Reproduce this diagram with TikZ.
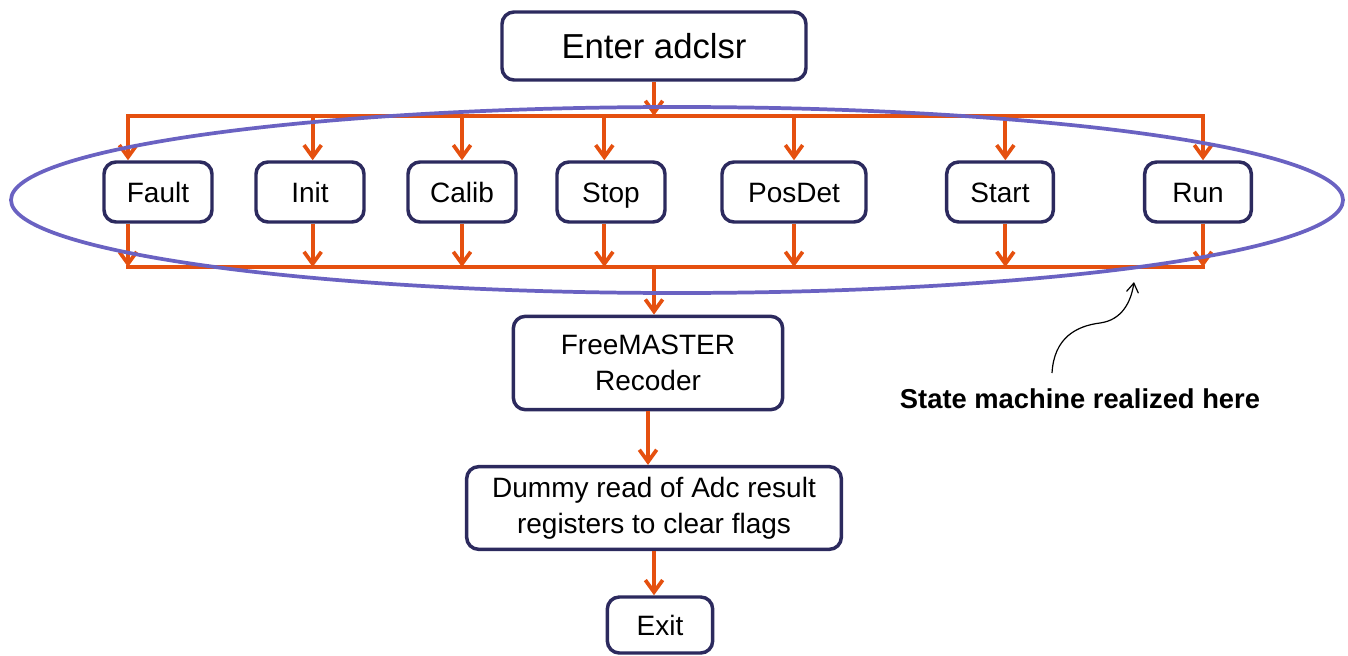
\documentclass[tikz,border=0pt]{standalone}
\usepackage{fontspec}
\setmainfont{Liberation Sans}
\usetikzlibrary{arrows.meta}

\definecolor{flowOrange}{HTML}{E5500F}
\definecolor{boxNavy}{HTML}{2C2A5E}
\definecolor{ringBlue}{HTML}{6A62C2}

\tikzset{every picture/.style={line width=0.75pt}}
\tikzset{
  stepbox/.style={draw=boxNavy, line width=2.6pt, rounded corners=9pt, fill=white,
    align=center, inner sep=2pt, font=\fontsize{21}{27}\selectfont},
  statebox/.style={stepbox, minimum width=81pt, minimum height=45pt, text height=16pt, text depth=1pt},
  flow/.style={draw=flowOrange, line width=2.8pt, -{Straight Barb[length=9pt,width=13pt]}},
  bus/.style={draw=flowOrange, line width=2.8pt, line cap=rect},
}

\begin{document}
\begin{tikzpicture}[x=0.75pt,y=0.75pt,yscale=-1,xscale=1]
\useasboundingbox (0,0) rectangle (1348,656);

% Text Node
\draw (654,46) node [stepbox, minimum width=228pt, minimum height=51pt, font=\fontsize{26}{30}\selectfont] (enter) {Enter adclsr};
% Text Node
\draw (158,192) node [statebox] (fault) {Fault};
% Text Node
\draw (310,192) node [statebox] (init) {Init};
% Text Node
\draw (462,192) node [statebox] (calib) {Calib};
% Text Node
\draw (611,192) node [statebox] (stop) {Stop};
% Text Node
\draw (794,192) node [statebox, minimum width=108pt] (posdet) {PosDet};
% Text Node
\draw (1000,192) node [statebox, minimum width=80pt] (start) {Start};
% Text Node
\draw (1198,192) node [statebox, minimum width=80pt] (run) {Run};
% Text Node
\draw (648,363) node [stepbox, minimum width=202pt, minimum height=70pt] (rec) {FreeMASTER\\Recoder};
% Text Node
\draw (654,508) node [stepbox, minimum width=281pt, minimum height=62pt] (dummy) {Dummy read of Adc result\\registers to clear flags};
% Text Node
\draw (660,625) node [stepbox, minimum width=79pt, minimum height=42pt, text height=16pt, text depth=1pt] (exit) {Exit};
% Text Node
\draw (1080,399) node [font=\fontsize{20.5}{24}\selectfont\bfseries] (note) {State machine realized here};

%Bus corners
\coordinate (tl) at (128,116);
\coordinate (tr) at (1203,116);
\coordinate (bl) at (128,267);
\coordinate (br) at (1203,267);
\coordinate (ringpt) at (1134,282);

%Top bus
\draw[bus] (tl) -- (tr);
\draw[flow] (enter.south) -- (enter.south |- tl);
\draw[flow] (tl) -- (tl |- fault.north);
\draw[flow] ([xshift=2]init.north |- tl) -- ([xshift=2]init.north);
\draw[flow] (calib.north |- tl) -- (calib.north);
\draw[flow] ([xshift=-5]stop.north |- tl) -- ([xshift=-5]stop.north);
\draw[flow] (posdet.north |- tl) -- (posdet.north);
\draw[flow] ([xshift=4]start.north |- tl) -- ([xshift=4]start.north);
\draw[flow] (tr) -- (tr |- run.north);

%Bottom bus
\draw[bus] (bl) -- (br);
\draw[flow] (bl |- fault.south) -- (bl);
\draw[flow] ([xshift=2]init.south) -- ([xshift=2]init.south |- bl);
\draw[flow] (calib.south) -- (calib.south |- bl);
\draw[flow] ([xshift=-5]stop.south) -- ([xshift=-5]stop.south |- bl);
\draw[flow] (posdet.south) -- (posdet.south |- bl);
\draw[flow] ([xshift=4]start.south) -- ([xshift=4]start.south |- bl);
\draw[flow] (br |- run.south) -- (br);

%Lower chain
\draw[flow] (enter.south |- bl) -- (enter.south |- rec.north);
\draw[flow] (rec.south) -- (rec.south |- dummy.north);
\draw[flow] (dummy.south) -- (dummy.south |- exit.north);

%Shape: Ellipse
\draw[ringBlue, line width=2.8pt] (677,200) ellipse [x radius=666, y radius=93];

%Curve Lines
\draw[line width=0.9pt, -{Straight Barb[length=7pt,width=9pt]}] (1052,373) .. controls (1054,338) and (1076,326) .. (1100,323) .. controls (1122,320) and (1131,302) .. (ringpt);

\end{tikzpicture}
\end{document}
